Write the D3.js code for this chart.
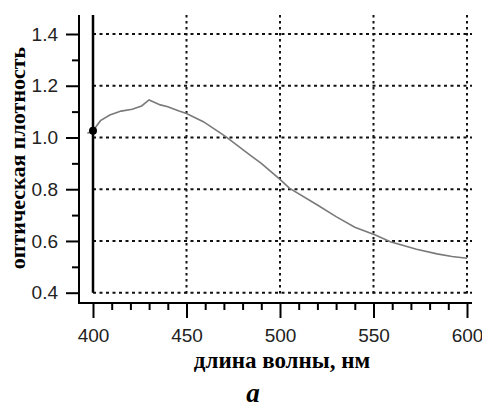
<!DOCTYPE html>
<html>
<head>
<meta charset="utf-8">
<script src="https://cdn.jsdelivr.net/npm/d3@7"></script>
<style>
  html, body { margin: 0; padding: 0; background: #fff; }
  svg { display: block; }
</style>
</head>
<body>
<svg id="chart" width="482" height="408"></svg>
<script>
// spectrum: wavelength (nm) and optical density
const wavelengths = [397, 400, 404, 409, 415, 421, 426, 430, 436, 440, 446, 450, 459, 471, 484, 490, 500, 505, 520, 530, 540, 551, 559, 573, 584, 592, 600]
const density = [1.016, 1.026, 1.065, 1.087, 1.102, 1.109, 1.122, 1.145, 1.126, 1.119, 1.102, 1.093, 1.061, 1.003, 0.932, 0.900, 0.838, 0.804, 0.739, 0.694, 0.653, 0.623, 0.597, 0.568, 0.550, 0.540, 0.533]
const markerPoint = [400, 1.026]

const xTicks = [400, 450, 500, 550, 600]
const xMinorTicks = [410, 420, 430, 440, 460, 470, 480, 490, 510, 520, 530, 540, 560, 570, 580, 590]
const yTicks = [0.4, 0.6, 0.8, 1.0, 1.2, 1.4]
const yMinorTicks = [0.5, 0.7, 0.9, 1.1, 1.3]

const xTitle = "длина волны, нм"
const yTitle = "оптическая плотность"
const panelLabel = "а"

const svg = d3.select("#chart")

const x = d3.scaleLinear().domain([400, 600]).range([93, 467])
const y = d3.scaleLinear().domain([0.4, 1.4]).range([292.7, 34])

const plotTop = 15
const axisX = 79
const axisY = 303

// grid
const grid = svg.append("g")
grid.selectAll("line.h")
    .data(yTicks)
    .join("line")
    .attr("class", "h")
    .attr("x1", x(400)).attr("x2", 472)
    .attr("y1", d => y(d)).attr("y2", d => y(d))
    .attr("stroke", "#111")
    .attr("stroke-width", 2)
    .attr("stroke-dasharray", "3,3.5")

grid.selectAll("line.v")
    .data(xTicks.slice(1))
    .join("line")
    .attr("class", "v")
    .attr("x1", d => x(d)).attr("x2", d => x(d))
    .attr("y1", plotTop).attr("y2", y(0.4) + 2)
    .attr("stroke", "#111")
    .attr("stroke-width", 2)
    .attr("stroke-dasharray", "2.5,3.5")

// solid line at 400 nm
svg.append("line")
    .attr("x1", x(400)).attr("x2", x(400))
    .attr("y1", plotTop).attr("y2", y(0.4))
    .attr("stroke", "#000")
    .attr("stroke-width", 2.5)

// axes
const yAxis = d3.axisLeft(y).tickValues(yTicks).tickSize(13).tickPadding(8).tickFormat(d3.format(".1f"))
const yMinor = d3.axisLeft(y).tickValues(yMinorTicks).tickSize(7).tickFormat("")
const xAxis = d3.axisBottom(x).tickValues(xTicks).tickSize(15).tickPadding(11).tickFormat(d3.format("d"))
const xMinor = d3.axisBottom(x).tickValues(xMinorTicks).tickSize(7).tickFormat("")

const styleAxis = g => {
    g.select(".domain").remove()
    g.selectAll(".tick line").attr("stroke", "#000").attr("stroke-width", 2)
    g.selectAll(".tick text")
        .attr("fill", "#222")
        .style("font-family", "'Liberation Sans', Arial, sans-serif")
        .style("font-size", "19px")
}

svg.append("g").attr("transform", `translate(${axisX},0)`).call(yAxis).call(styleAxis)
svg.append("g").attr("transform", `translate(${axisX},0)`).call(yMinor).call(styleAxis)
svg.append("g").attr("transform", `translate(0,${axisY})`).call(xAxis).call(styleAxis)
svg.append("g").attr("transform", `translate(0,${axisY})`).call(xMinor).call(styleAxis)

svg.append("path")
    .attr("d", `M${axisX},${plotTop}V${axisY}H472`)
    .attr("fill", "none")
    .attr("stroke", "#000")
    .attr("stroke-width", 2)

// curve
const points = wavelengths.map((w, i) => [w, density[i]])
svg.append("path")
    .datum(points)
    .attr("d", d3.line().x(d => x(d[0])).y(d => y(d[1])))
    .attr("fill", "none")
    .attr("stroke", "#7a7a7a")
    .attr("stroke-width", 1.6)

svg.append("circle")
    .attr("cx", x(markerPoint[0]))
    .attr("cy", y(markerPoint[1]))
    .attr("r", 4)
    .attr("fill", "#000")

// titles
svg.append("text")
    .attr("x", 282)
    .attr("y", 368)
    .attr("text-anchor", "middle")
    .style("font-family", "'Liberation Serif', 'Times New Roman', serif")
    .style("font-weight", "bold")
    .style("font-size", "23px")
    .text(xTitle)

svg.append("text")
    .attr("transform", "translate(25,158) rotate(-90)")
    .attr("text-anchor", "middle")
    .style("font-family", "'Liberation Serif', 'Times New Roman', serif")
    .style("font-weight", "bold")
    .style("font-size", "22px")
    .text(yTitle)

svg.append("text")
    .attr("x", 253)
    .attr("y", 402)
    .attr("text-anchor", "middle")
    .style("font-family", "'Liberation Serif', 'Times New Roman', serif")
    .style("font-weight", "bold")
    .style("font-style", "italic")
    .style("font-size", "27px")
    .text(panelLabel)
</script>
</body>
</html>
